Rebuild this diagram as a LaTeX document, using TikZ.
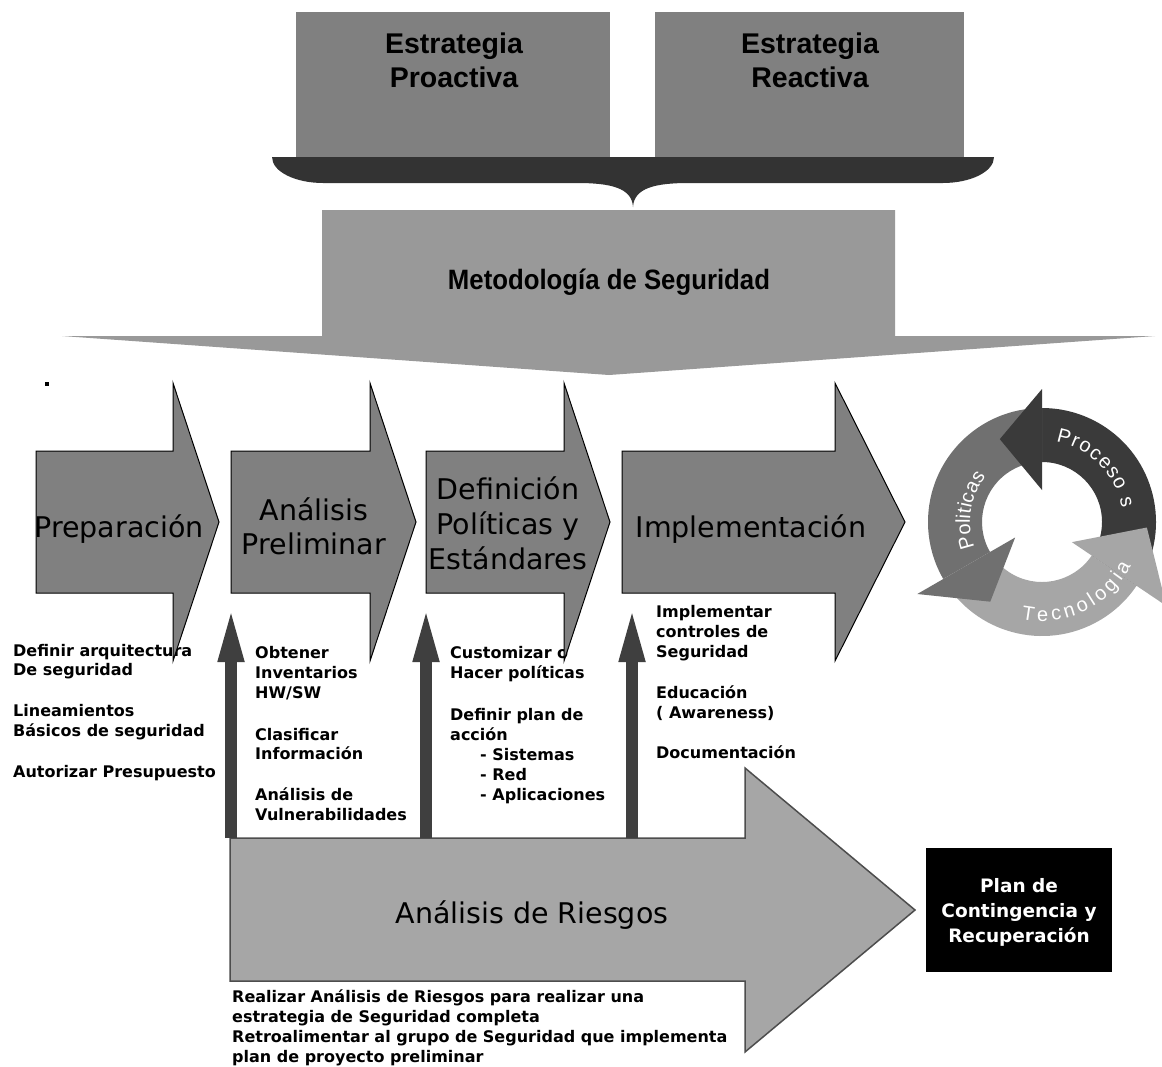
\documentclass[tikz,border=0pt]{standalone}
\usepackage{fontspec}
\setmainfont{DejaVu Sans}
\newfontfamily\arialf{Liberation Sans}
\newfontfamily\arialn{Liberation Sans}[FakeStretch=0.92]
\usetikzlibrary{arrows.meta,decorations.text}
\definecolor{boxgray}{HTML}{808080}
\definecolor{bracegray}{HTML}{333333}
\definecolor{metgray}{HTML}{999999}
\definecolor{chevgray}{HTML}{808080}
\definecolor{upgray}{HTML}{3F3F3F}
\definecolor{riskgray}{HTML}{A6A6A6}
\definecolor{riskline}{HTML}{4D4D4D}
\definecolor{procgray}{HTML}{3A3A3A}
\definecolor{polgray}{HTML}{707070}
\definecolor{tecgray}{HTML}{A6A6A6}
\newcommand\circfont{\arialf\fontsize{20}{20}\selectfont}
\tikzset{
  topbox/.style={fill=boxgray},
  toptext/.style={anchor=base, inner sep=0pt, font=\arialf\bfseries\fontsize{28.5}{34}\selectfont},
  mettext/.style={anchor=base, inner sep=0pt, font=\arialn\bfseries\fontsize{28}{34}\selectfont},
  chev/.style={draw=black, line width=1pt, fill=chevgray, line join=miter},
  chevtext/.style={anchor=base, inner sep=0pt, font=\fontsize{28.5}{34}\selectfont},
  coltext/.style={anchor=base west, inner sep=0pt, font=\bfseries\fontsize{16}{20}\selectfont},
  upconn/.style={draw=upgray, line width=12pt, -{Triangle[length=57pt 0 0, width=23pt 0 0]}},
  riskarrow/.style={fill=riskgray, draw=riskline, line width=1.5pt, line join=miter},
  plantext/.style={anchor=base, inner sep=0pt, text=white, font=\bfseries\fontsize{18.5}{24}\selectfont},
  ringtext/.style={decorate, decoration={text along path, text align={fit to path}, text color=white}}
}
\begin{document}
\begin{tikzpicture}[x=1pt,y=-1pt]
\clip (0,0) rectangle (1162,1066);
\fill[white] (0,0) rectangle (1162,1066);

% ---- top strategy boxes
\fill[topbox] (296,12) rectangle (610,157);
\fill[topbox] (655,12) rectangle (964,157);
\node[toptext] (pro1) at (454,53) {Estrategia};
\node[toptext] (pro2) at (454,87) {Proactiva};
\node[toptext] (rea1) at (810,53) {Estrategia};
\node[toptext] (rea2) at (810,87) {Reactiva};

% ---- brace
\fill[bracegray] (272,157) -- (994,157)
  .. controls (994,172) and (970,183) .. (943,183) -- (689,183)
  .. controls (655,183) and (634,188) .. (633,207)
  .. controls (632,188) and (611,183) .. (577,183) -- (323,183)
  .. controls (296,183) and (272,172) .. (272,157) -- cycle;

% ---- methodology arrow
\fill[metgray] (322,210) -- (895,210) -- (895,336) -- (1155,336) -- (609,375)
  -- (62,336) -- (322,336) -- cycle;
\node[mettext] (met) at (609,289) {Metodología de Seguridad};

% small mark
\fill[black] (45,382) rectangle (49,386);

% ---- column texts (drawn below the chevrons)
\foreach \yy/\txt [count=\i] in {656/Definir arquitectura, 675.5/De seguridad,
    716.5/Lineamientos, 736/Básicos de seguridad, 777/Autorizar Presupuesto}
  \node[coltext] (ca\i) at (13,\yy) {\txt};
\foreach \yy/\txt [count=\i] in {658/Obtener, 678/Inventarios, 698/{HW/SW},
    740/Clasificar, 759/Información, 800/Análisis de, 820/Vulnerabilidades}
  \node[coltext] (cb\i) at (255,\yy) {\txt};
\foreach \xx/\yy/\txt [count=\i] in {450/658/Customizar o, 450/678/Hacer políticas,
    450/720/Definir plan de, 450/740/acción, 480/760/- Sistemas, 480/780/- Red,
    480/800/- Aplicaciones}
  \node[coltext] (cc\i) at (\xx,\yy) {\txt};
\foreach \yy/\txt [count=\i] in {617/Implementar, 637/controles de, 657/Seguridad,
    698/Educación, 718/( Awareness), 758/Documentación}
  \node[coltext] (cd\i) at (656,\yy) {\txt};

% ---- chevrons
\draw[chev] (36,451) -- (173,451) -- (173,383) -- (219,522) -- (173,661) -- (173,593) -- (36,593) -- cycle;
\draw[chev] (231,451) -- (370,451) -- (370,383) -- (416,522) -- (370,661) -- (370,593) -- (231,593) -- cycle;
\draw[chev] (426,451) -- (564,451) -- (564,383) -- (610,522) -- (564,661) -- (564,593) -- (426,593) -- cycle;
\draw[chev] (622,451) -- (835,451) -- (835,383) -- (905,522) -- (835,661) -- (835,593) -- (622,593) -- cycle;
\node[chevtext] (prep) at (119,537) {Preparación};
\node[chevtext] (ana1) at (314,520) {Análisis};
\node[chevtext] (ana2) at (314,554) {Preliminar};
\node[chevtext] (def1) at (508,499) {Definición};
\node[chevtext] (def2) at (508,534) {Políticas y};
\node[chevtext] (def3) at (508,569) {Estándares};
\node[chevtext] (impl) at (751,537) {Implementación};

% ---- risk analysis arrow
\draw[riskarrow] (230,838) -- (745,838) -- (745,768) -- (915,910) -- (745,1052)
  -- (745,981) -- (230,981) -- cycle;
\node[chevtext] (risk) at (532,923) {Análisis de Riesgos};
\foreach \yy/\txt [count=\i] in {1002/Realizar Análisis de Riesgos para realizar una,
    1022/estrategia de Seguridad completa,
    1042/Retroalimentar al grupo de Seguridad que implementa,
    1062/plan de proyecto preliminar}
  \node[coltext] (ce\i) at (232,\yy) {\txt};

% ---- upward connectors
\coordinate (ub1) at (231,838); \coordinate (ut1) at (231,605);
\coordinate (ub2) at (426,838); \coordinate (ut2) at (426,605);
\coordinate (ub3) at (632,838); \coordinate (ut3) at (632,605);
\draw[upconn] (ub1) -- (ut1);
\draw[upconn] (ub2) -- (ut2);
\draw[upconn] (ub3) -- (ut3);

% ---- contingency box
\fill[black] (926,848) rectangle (1112,972);
\node[plantext] (pl1) at (1019,892) {Plan de};
\node[plantext] (pl2) at (1019,917) {Contingencia y};
\node[plantext] (pl3) at (1019,942) {Recuperación};

% ---- cycle
\begin{scope}[shift={(1042,522)}]
  % bodies (angles negated: y axis points down)
  \fill[procgray] (34:114) arc[start angle=34, end angle=-90, radius=114]
     -- (-90:60) arc[start angle=-90, end angle=34, radius=60] -- cycle;
  \fill[polgray] (-90:114) arc[start angle=-90, end angle=-210, radius=114]
     -- (-210:60) arc[start angle=-210, end angle=-90, radius=60] -- cycle;
  \fill[tecgray] (-210:114) arc[start angle=-210, end angle=-326, radius=114]
     -- (-326:60) arc[start angle=-326, end angle=-210, radius=60] -- cycle;
  % heads
  \fill[procgray] (-90:32) -- (-90:133) -- (-117:93) -- cycle;
  \fill[polgray] (-210:31) -- (-210:144) -- (-237:95) -- cycle;
  \fill[tecgray] (34:36) -- (34:150) -- (3:105) -- cycle;
  % labels
  \path[ringtext, decoration={text={|\circfont|Proceso s}}]
     (-80:81) arc[start angle=-80, end angle=-10, radius=81];
  \path[ringtext, decoration={text={|\circfont|Tecnologia}}]
     (102:99) arc[start angle=102, end angle=26, radius=99];
  \path[ringtext, decoration={text={|\circfont|Politicas}}]
     (-201:72) arc[start angle=-201, end angle=-141, radius=72];
\end{scope}
\end{tikzpicture}
\end{document}
